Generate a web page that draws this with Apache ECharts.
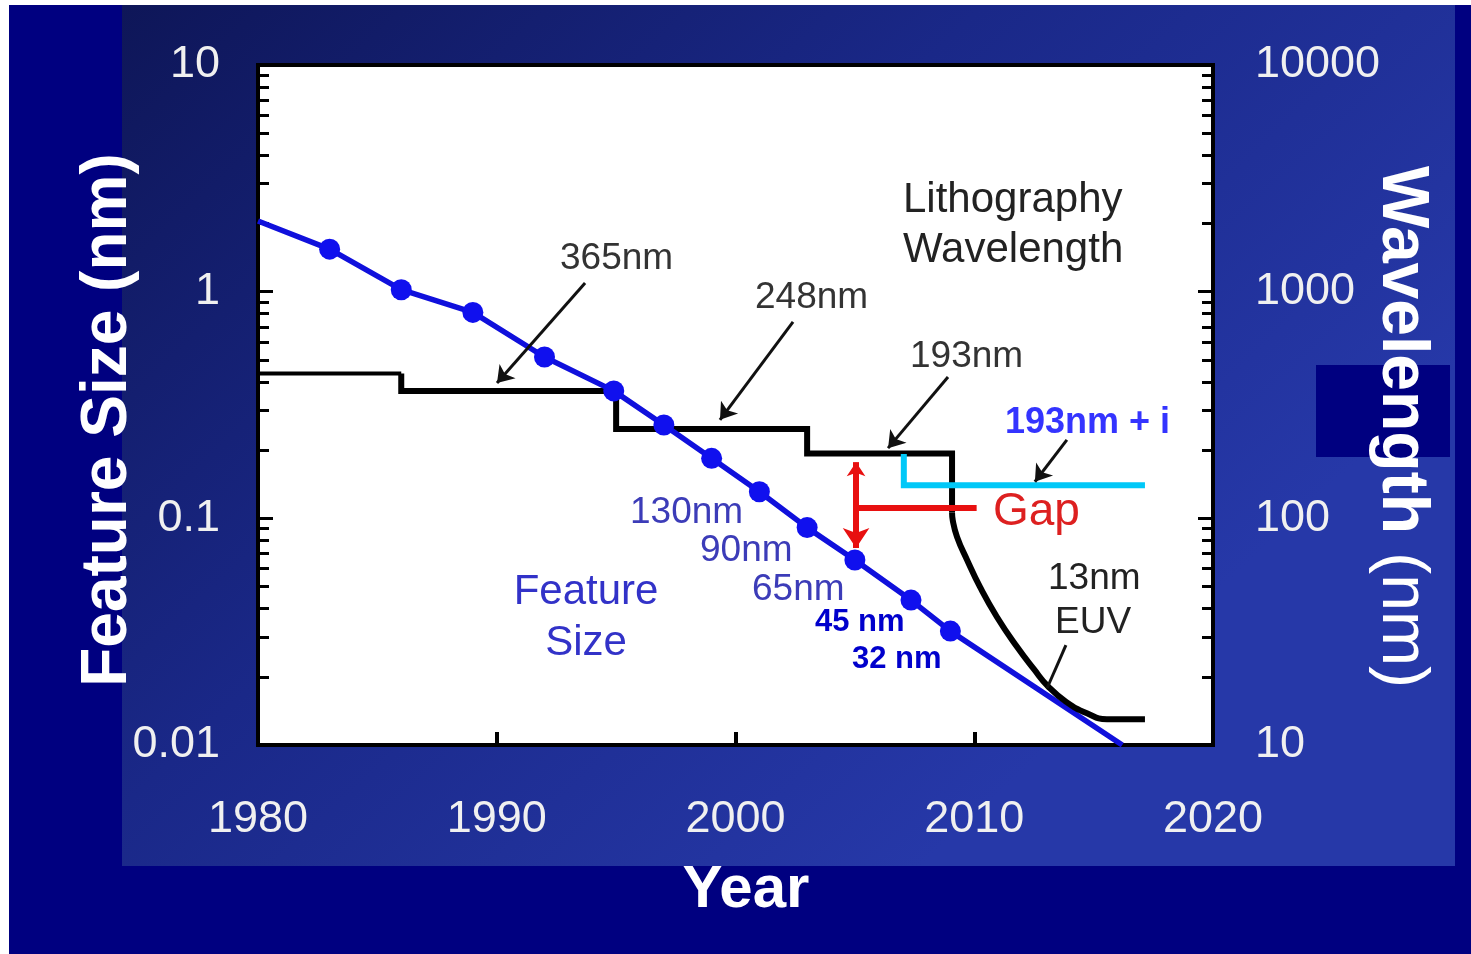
<!DOCTYPE html>
<html><head><meta charset="utf-8">
<script src="https://cdn.jsdelivr.net/npm/echarts@6/dist/echarts.min.js"></script>
<style>html,body{margin:0;padding:0;background:#fff;}#c{width:1471px;height:954px;}</style>
</head><body><div id="c"></div>
<script>
// ---- data ----
const featureYears = [1983, 1986, 1989, 1992, 1994.9, 1997, 1999, 2001, 2003, 2005, 2007.35, 2009];
const featureSizes = [1.54, 1.02, 0.81, 0.515, 0.365, 0.258, 0.184, 0.131, 0.091, 0.0655, 0.0436, 0.0318];
const trendStart = [1980, 2.05];
const trendEnd = [2016.2, 0.01];

const gLineYears = [1980, 1986];
const gLineValues = [436, 436];
const stepYears = [1986, 1986, 1995, 1995, 2003, 2003, 2009.07, 2009.07];
const stepValues = [436, 365, 365, 248, 248, 193, 193, 106];
const euvYears = [2009.07, 2009.1, 2009.28, 2009.7, 2010.24, 2010.95, 2011.79, 2012.5, 2013.1, 2013.85, 2014.72, 2015.56, 2017.15];
const euvValues = [106, 98, 82.8, 65.5, 49.8, 36.7, 27.1, 21.6, 18.1, 15.5, 13.8, 13.0, 13.0];
const immersionYears = [2007.05, 2007.05, 2017.15];
const immersionValues = [192, 140, 140];
const gapArrowYears = [2005.05, 2005.05];
const gapArrowValues = [177, 74];
const gapBarYears = [2005.05, 2010.1];
const gapBarValues = [111, 111];

// annotation pointers [year, wavelength] start -> end
const arrowStarts = [[1993.70, 1092], [2002.41, 735], [2008.90, 420], [2013.88, 222]];
const arrowEnds   = [[1990.01, 395],  [1999.35, 272], [2006.39, 204], [2012.54, 145]];
const euvPointer = [[2013.84, 27.6], [2013.05, 17.8]];

const xTicks = [1980, 1990, 2000, 2010, 2020];
const leftMajor = [0.01, 0.1, 1, 10];
const leftMinor = [0.02,0.03,0.04,0.05,0.06,0.07,0.08,0.09,0.2,0.3,0.4,0.5,0.6,0.7,0.8,0.9,2,3,4,5,6,7,8,9];
const rightMajor = [10, 100, 1000, 10000];
const rightMinor = [20,30,40,50,60,70,80,90,200,300,400,500,600,700,800,900,2000,3000,4000,5000,6000,7000,8000,9000];

const FF = '"Liberation Sans", Arial, Helvetica, sans-serif';
const pairs = (xs, ys) => xs.map((x, i) => [x, ys[i]]);

function txt(x, y, text, size, color, o) {
  o = o || {};
  const el = {type: 'text', x: x, y: y, z: 50, silent: true,
    style: {text: text, font: (o.bold ? 'bold ' : '') + size + 'px ' + FF, fill: color,
      align: o.align || 'left', verticalAlign: 'middle', textAlign: o.align || 'left', textVerticalAlign: 'middle'}};
  if (o.rotation != null) el.rotation = o.rotation;
  return el;
}

const chart = echarts.init(document.getElementById('c'), null, {renderer: 'canvas'});
const lblColor = '#f0f0f0';
const option = {
  animation: false,
  backgroundColor: '#ffffff',
  grid: {left: 258, top: 65, right: 258, bottom: 209, show: true, backgroundColor: '#ffffff', borderColor: '#000', borderWidth: 4},
  xAxis: {type: 'value', min: 1980, max: 2020, interval: 10,
    axisLine: {show: true, onZero: false, lineStyle: {color: '#000', width: 4}},
    axisTick: {show: true, inside: true, length: 13, lineStyle: {color: '#000', width: 4}},
    axisLabel: {color: lblColor, fontSize: 45, fontFamily: FF, margin: 52, customValues: xTicks,
      formatter: v => String(Math.round(v))},
    splitLine: {show: false}},
  yAxis: [
    {type: 'log', logBase: 10, min: 0.01, max: 10, position: 'left',
      axisLine: {show: true, lineStyle: {color: '#000', width: 4}},
      axisTick: {show: true, inside: true, length: 15, lineStyle: {color: '#000', width: 3}, customValues: leftMajor},
      axisLabel: {color: lblColor, fontSize: 45, fontFamily: FF, margin: 38, customValues: leftMajor,
        formatter: v => String(+v.toPrecision(3))},
      splitLine: {show: false}},
    {type: 'log', logBase: 10, min: 10, max: 10000, position: 'right',
      axisLine: {show: true, lineStyle: {color: '#000', width: 4}},
      axisTick: {show: true, inside: true, length: 15, lineStyle: {color: '#000', width: 3}, customValues: rightMajor},
      axisLabel: {color: lblColor, fontSize: 45, fontFamily: FF, margin: 42, customValues: rightMajor,
        formatter: v => String(Math.round(v))},
      splitLine: {show: false}},
    {type: 'log', logBase: 10, min: 0.01, max: 10, position: 'left',
      axisLine: {show: false}, axisLabel: {show: false}, splitLine: {show: false},
      axisTick: {show: true, inside: true, length: 11, lineStyle: {color: '#000', width: 3}, customValues: leftMinor}},
    {type: 'log', logBase: 10, min: 10, max: 10000, position: 'right',
      axisLine: {show: false}, axisLabel: {show: false}, splitLine: {show: false},
      axisTick: {show: true, inside: true, length: 11, lineStyle: {color: '#000', width: 3}, customValues: rightMinor}}
  ],
  series: [
    {type: 'line', yAxisIndex: 1, data: pairs(gLineYears, gLineValues), symbol: 'none', silent: true, z: 2,
      lineStyle: {color: '#000', width: 4, join: 'miter'}},
    {type: 'line', yAxisIndex: 1, data: pairs(stepYears, stepValues), symbol: 'none', silent: true, z: 2,
      lineStyle: {color: '#000', width: 6, join: 'miter'}},
    {type: 'line', yAxisIndex: 1, data: pairs(immersionYears, immersionValues), symbol: 'none', silent: true, z: 2,
      lineStyle: {color: '#00c8f8', width: 6, join: 'miter'}},
    {type: 'line', yAxisIndex: 0, data: [trendStart].concat(pairs(featureYears, featureSizes), [trendEnd]),
      symbol: 'none', silent: true, z: 3, lineStyle: {color: '#1010dc', width: 5.5}},
    {type: 'scatter', yAxisIndex: 0, data: pairs(featureYears, featureSizes), symbolSize: 21, silent: true, z: 4,
      itemStyle: {color: '#1010ee', opacity: 1}},
    {type: 'line', yAxisIndex: 1, data: pairs(euvYears, euvValues), symbol: 'none', smooth: 0.5, silent: true, z: 5,
      lineStyle: {color: '#000', width: 6}},
    {type: 'line', yAxisIndex: 1, data: pairs(gapBarYears, gapBarValues), symbol: 'none', silent: true, z: 5,
      lineStyle: {color: '#e81010', width: 6}},
    {type: 'lines', coordinateSystem: 'cartesian2d', yAxisIndex: 1, z: 5, silent: true,
      symbol: ['arrow', 'arrow'], symbolSize: [14, 20],
      lineStyle: {color: '#e81010', width: 6, opacity: 1},
      data: [{coords: pairs(gapArrowYears, gapArrowValues)}]},
    {type: 'lines', coordinateSystem: 'cartesian2d', yAxisIndex: 1, z: 6, silent: true,
      symbol: ['none', 'arrow'], symbolSize: 16,
      lineStyle: {color: '#111', width: 3, opacity: 1},
      data: arrowStarts.map((s, i) => ({coords: [s, arrowEnds[i]]}))},
    {type: 'lines', coordinateSystem: 'cartesian2d', yAxisIndex: 1, z: 6, silent: true,
      symbol: ['none', 'none'],
      lineStyle: {color: '#111', width: 3, opacity: 1},
      data: [{coords: euvPointer}]}
  ],
  graphic: {elements: [
    {type: 'rect', z: -30, silent: true, shape: {x: 0, y: 0, width: 1471, height: 954}, style: {fill: '#ffffff'}},
    {type: 'rect', z: -20, silent: true, shape: {x: 9, y: 5, width: 1462, height: 949}, style: {fill: '#000080'}},
    {type: 'rect', z: -10, silent: true, shape: {x: 122, y: 5, width: 1333, height: 861},
      style: {fill: {type: 'linear', x: 0, y: 0, x2: 0.6, y2: 1, colorStops: [
        {offset: 0, color: '#0e1658'}, {offset: 0.5, color: '#1a2888'}, {offset: 1, color: '#2638a8'}]}}},
    {type: 'rect', z: -5, silent: true, shape: {x: 1316, y: 365, width: 134, height: 92}, style: {fill: '#000080'}},

    txt(108, 420, 'Feature Size (nm)', 64, '#ffffff', {bold: true, align: 'center', rotation: Math.PI / 2}),
    {type: 'text', x: 1401, y: 427, z: 50, silent: true, rotation: -Math.PI / 2,
      style: {text: '{b|Wavelength}{r| (nm)}', font: 'bold 66px ' + FF, fill: '#ffffff',
        align: 'center', verticalAlign: 'middle', textAlign: 'center', textVerticalAlign: 'middle',
        rich: {b: {font: 'bold 66px ' + FF, fill: '#ffffff'}, r: {font: '66px ' + FF, fill: '#ffffff'}}}},
    txt(746, 890, 'Year', 60, '#ffffff', {bold: true, align: 'center'}),

    txt(903, 200, 'Lithography', 42, '#222222'),
    txt(903, 250, 'Wavelength', 42, '#222222'),
    txt(560, 259, '365nm', 37, '#333333'),
    txt(755, 298, '248nm', 37, '#333333'),
    txt(910, 357, '193nm', 37, '#333333'),
    txt(1005, 423, '193nm + i', 36, '#3434ff', {bold: true}),
    txt(993, 512, 'Gap', 46, '#dd2020'),
    txt(1048, 579, '13nm', 37, '#222222'),
    txt(1055, 623, 'EUV', 37, '#222222'),
    txt(630, 513, '130nm', 37, '#3c3cb8'),
    txt(700, 551, '90nm', 37, '#3c3cb8'),
    txt(752, 590, '65nm', 37, '#3c3cb8'),
    txt(586, 592, 'Feature', 42, '#3232c8', {align: 'center'}),
    txt(586, 643, 'Size', 42, '#3232c8', {align: 'center'}),
    txt(815, 622, '45 nm', 31, '#0000cc', {bold: true}),
    txt(852, 659, '32 nm', 31, '#0000cc', {bold: true})
  ]}
};
chart.setOption(option);
</script></body></html>
